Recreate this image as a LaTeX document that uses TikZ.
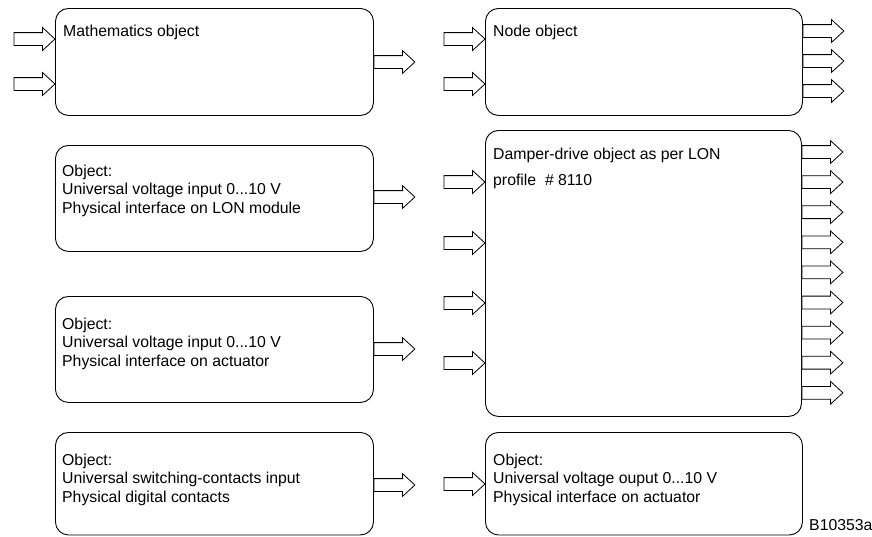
\documentclass[tikz,border=0pt]{standalone}
\usepackage{fontspec}
\setmainfont{Liberation Sans}
\usepackage{tikz}
\usetikzlibrary{shapes.arrows,positioning,calc}

\tikzset{
  objbox/.style={draw,line width=0.9pt,rounded corners=13pt,minimum width=318pt,anchor=north west,inner sep=0pt},
  objtxt/.style={anchor=base west,align=left,inner sep=0pt,font=\fontsize{15.8}{18.5}\selectfont},
  hollow/.style={single arrow,draw,line width=0.8pt,fill=white,inner xsep=0pt,inner ysep=6pt,outer sep=0pt,
    minimum height=41pt,minimum width=22pt,single arrow head extend=5pt,single arrow tip angle=85},
}

\begin{document}
\begin{tikzpicture}[x=1pt,y=1pt]
  \useasboundingbox (0,0) rectangle (872,-536);

  % left column
  \node[objbox,minimum height=107pt] (math) at (55,-8) {};
  \node[objbox,minimum height=106pt] (uinlon) at (55,-145) {};
  \node[objbox,minimum height=106pt] (uinact) at (55,-296) {};
  \node[objbox,minimum height=102.5pt] (swin) at (55,-432) {};
  % right column
  \node[objbox,minimum width=317pt,minimum height=107pt] (nodeobj) at (485,-8) {};
  \node[objbox,minimum width=316pt,minimum height=286pt] (damper) at (485,-130) {};
  \node[objbox,minimum width=317pt,minimum height=102.5pt] (uout) at (485,-432) {};

  % texts (base = baseline of the last line)
  \node[objtxt] (math-t) at ($(math.north west)+(8,-28)$) {Mathematics object};
  \node[objtxt] (nodeobj-t) at ($(nodeobj.north west)+(8,-28)$) {Node object};
  \node[objtxt] (damper-t) at ($(damper.north west)+(8,-55)$) {Damper-drive object as per LON\\[7.5pt]profile\ \ \#~8110};
  \node[objtxt] (uinlon-t) at ($(uinlon.north west)+(7,-68)$) {Object:\\Universal voltage input 0...10 V\\Physical interface on LON module};
  \node[objtxt] (uinact-t) at ($(uinact.north west)+(7,-70)$) {Object:\\Universal voltage input 0...10 V\\Physical interface on actuator};
  \node[objtxt] (swin-t) at ($(swin.north west)+(7,-70)$) {Object:\\Universal switching-contacts input\\Physical digital contacts};
  \node[objtxt] (uout-t) at ($(uout.north west)+(8,-70)$) {Object:\\Universal voltage ouput 0...10 V\\Physical interface on actuator};

  % inputs
  \foreach \dy [count=\i] in {31,76}{
    \node[hollow,anchor=tip] (math-in\i) at ($(math.north west)+(0,-\dy)$) {};
    \node[hollow,anchor=tip] (nodeobj-in\i) at ($(nodeobj.north west)+(0,-\dy)$) {};
  }
  \foreach \dy [count=\i] in {52,113,173,233}
    \node[hollow,anchor=tip] (damper-in\i) at ($(damper.north west)+(0,-\dy)$) {};
  \node[hollow,anchor=tip] (uout-in) at ($(uout.north west)+(0,-52)$) {};

  % outputs
  \node[hollow,anchor=tail] (math-out) at ($(math.north east)+(0,-54)$) {};
  \foreach \dy [count=\i] in {23,53,83}
    \node[hollow,anchor=tail] (nodeobj-out\i) at ($(nodeobj.north east)+(0,-\dy)$) {};
  \foreach \k in {0,...,8}
    \node[hollow,anchor=tail] (damper-out\k) at ($(damper.north east)+(0,{-22-30.1*\k})$) {};
  \node[hollow,anchor=tail] (uinlon-out) at ($(uinlon.north east)+(0,-52)$) {};
  \node[hollow,anchor=tail] (uinact-out) at ($(uinact.north east)+(0,-53)$) {};
  \node[hollow,anchor=tail] (swin-out) at ($(swin.north east)+(0,-53)$) {};

  \node[objtxt] (code) at (809,-530) {B10353a};
\end{tikzpicture}
\end{document}
